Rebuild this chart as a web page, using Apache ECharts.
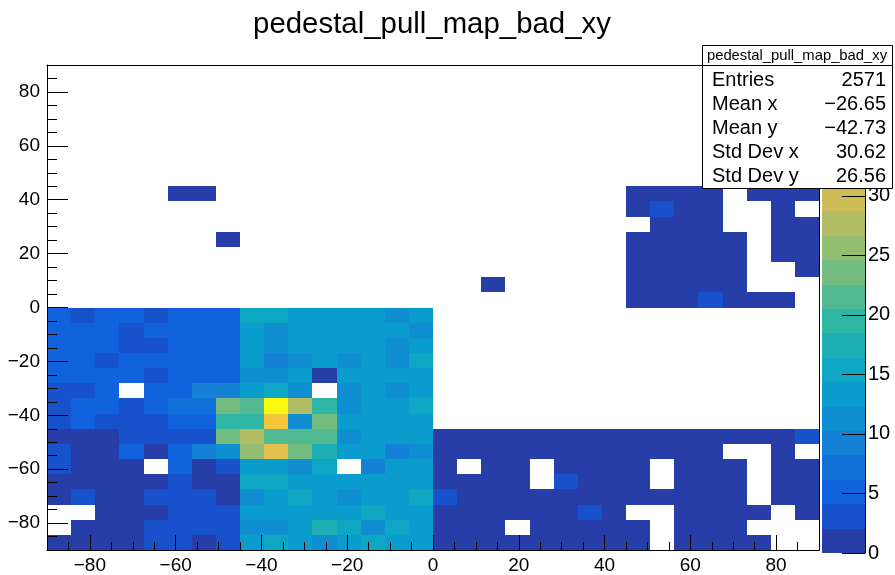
<!DOCTYPE html>
<html><head><meta charset="utf-8">
<script src="https://cdn.jsdelivr.net/npm/echarts@6/dist/echarts.min.js"></script>
<style>html,body{margin:0;padding:0;background:#fff}#c{width:895px;height:575px}</style>
</head><body><div id="c"></div><script>
// ---- axis / binning definitions ----
const xMin = -90, xMax = 90, yMin = -90, yMax = 90;
const nBinsX = 32, nBinsY = 32;
const zMax = 41, nContours = 20;

// ---- bin contents, one array per y-bin (bottom row first), 32 x-bins each ----
const row00 = [1,2,1,1,3,3,1,3,13,15,13,11,13,15,13,13, 1,1,2,1,1,1,1,2,1,0,1,1,2,1,0,0];
const row01 = [0,1,2,1,3,3,4,3,11,11,13,17,15,11,15,13, 1,1,1,0,1,2,1,1,1,0,1,1,1,0,0,0];
const row02 = [0,0,1,2,1,3,3,4,13,13,14,13,13,15,13,13, 1,2,1,1,1,1,3,1,0,0,1,2,1,1,0,1];
const row03 = [1,3,1,2,3,3,3,1,11,13,15,13,11,13,14,15, 3,1,1,1,1,1,1,1,1,1,1,1,1,0,1,1];
const row04 = [1,2,1,1,1,3,1,2,15,15,13,13,14,13,13,13, 1,1,1,1,0,3,1,1,1,0,1,1,1,0,1,1];
const row05 = [3,1,1,2,0,5,1,3,13,14,11,15,0,9,13,13, 1,0,1,1,0,1,1,1,1,0,1,1,1,0,1,1];
const row06 = [3,1,1,5,1,5,10,11,25,31,23,17,13,13,9,11, 1,1,1,1,1,1,1,1,1,1,1,1,0,0,1,0];
const row07 = [1,1,2,3,3,4,3,23,27,21,21,21,11,13,13,13, 1,1,1,1,1,1,1,1,1,1,1,1,1,1,1,3];
const row08 = [3,5,3,3,4,5,5,19,19,34,11,23,13,13,13,13, 0,0,0,0,0,0,0,0,0,0,0,0,0,0,0,0];
const row09 = [3,5,5,3,5,7,7,23,21,41,27,19,11,13,13,15, 0,0,0,0,0,0,0,0,0,0,0,0,0,0,0,0];
const row10 = [3,4,5,0,5,5,9,9,13,15,11,0,11,13,11,13, 0,0,0,0,0,0,0,0,0,0,0,0,0,0,0,0];
const row11 = [5,5,6,5,3,5,5,5,11,11,13,1,13,13,13,13, 0,0,0,0,0,0,0,0,0,0,0,0,0,0,0,0];
const row12 = [5,5,3,5,5,5,6,5,13,9,11,13,11,13,11,15, 0,0,0,0,0,0,0,0,0,0,0,0,0,0,0,0];
const row13 = [5,5,5,3,4,5,5,5,13,11,13,13,13,13,11,13, 0,0,0,0,0,0,0,0,0,0,0,0,0,0,0,0];
const row14 = [5,5,5,3,5,5,5,5,13,11,13,13,13,13,13,11, 0,0,0,0,0,0,0,0,0,0,0,0,0,0,0,0];
const row15 = [5,3,5,5,3,5,5,5,15,15,13,13,13,13,11,13, 0,0,0,0,0,0,0,0,0,0,0,0,0,0,0,0];
const row16 = [0,0,0,0,0,0,0,0,0,0,0,0,0,0,0,0, 0,0,0,0,0,0,0,0,1,1,1,3,1,1,1,0];
const row17 = [0,0,0,0,0,0,0,0,0,0,0,0,0,0,0,0, 0,0,1,0,0,0,0,0,1,1,1,1,1,0,0,0];
const row18 = [0,0,0,0,0,0,0,0,0,0,0,0,0,0,0,0, 0,0,0,0,0,0,0,0,1,1,1,1,1,0,0,1];
const row19 = [0,0,0,0,0,0,0,0,0,0,0,0,0,0,0,0, 0,0,0,0,0,0,0,0,1,1,1,1,1,0,1,1];
const row20 = [0,0,0,0,0,0,0,1,0,0,0,0,0,0,0,0, 0,0,0,0,0,0,0,0,1,1,1,1,1,0,1,1];
const row21 = [0,0,0,0,0,0,0,0,0,0,0,0,0,0,0,0, 0,0,0,0,0,0,0,0,0,1,1,1,0,0,1,1];
const row22 = [0,0,0,0,0,0,0,0,0,0,0,0,0,0,0,0, 0,0,0,0,0,0,0,0,1,3,1,1,0,0,1,0];
const row23 = [0,0,0,0,0,1,1,0,0,0,0,0,0,0,0,0, 0,0,0,0,0,0,0,0,1,1,1,1,0,1,1,1];
const row24 = [0,0,0,0,0,0,0,0,0,0,0,0,0,0,0,0, 0,0,0,0,0,0,0,0,0,0,0,0,0,0,0,0];
const row25 = [0,0,0,0,0,0,0,0,0,0,0,0,0,0,0,0, 0,0,0,0,0,0,0,0,0,0,0,0,0,0,0,0];
const row26 = [0,0,0,0,0,0,0,0,0,0,0,0,0,0,0,0, 0,0,0,0,0,0,0,0,0,0,0,0,0,0,0,0];
const row27 = [0,0,0,0,0,0,0,0,0,0,0,0,0,0,0,0, 0,0,0,0,0,0,0,0,0,0,0,0,0,0,0,0];
const row28 = [0,0,0,0,0,0,0,0,0,0,0,0,0,0,0,0, 0,0,0,0,0,0,0,0,0,0,0,0,0,0,0,0];
const row29 = [0,0,0,0,0,0,0,0,0,0,0,0,0,0,0,0, 0,0,0,0,0,0,0,0,0,0,0,0,0,0,0,0];
const row30 = [0,0,0,0,0,0,0,0,0,0,0,0,0,0,0,0, 0,0,0,0,0,0,0,0,0,0,0,0,0,0,0,0];
const row31 = [0,0,0,0,0,0,0,0,0,0,0,0,0,0,0,0, 0,0,0,0,0,0,0,0,0,0,0,0,0,0,0,0];
const rows = [row00,row01,row02,row03,row04,row05,row06,row07,row08,row09,row10,row11,row12,row13,row14,row15,
              row16,row17,row18,row19,row20,row21,row22,row23,row24,row25,row26,row27,row28,row29,row30,row31];

// ---- texts ----
const titleText = 'pedestal_pull_map_bad_xy';
const statsTitle = 'pedestal_pull_map_bad_xy';
const statsNames = ['Entries', 'Mean x', 'Mean y', 'Std Dev x', 'Std Dev y'];
const statsValues = ['2571', '\u221226.65', '\u221242.73', '30.62', '26.56'];

// ---- palette (ROOT kBird) ----
const birdStops = [0, .125, .25, .375, .5, .625, .75, .875, 1];
const birdR = [0.2082,0.0592,0.0780,0.0232,0.1802,0.5301,0.8186,0.9956,0.9764];
const birdG = [0.1664,0.3599,0.5041,0.6419,0.7178,0.7492,0.7328,0.7862,0.9832];
const birdB = [0.5293,0.8684,0.8385,0.7914,0.6425,0.4662,0.3499,0.1968,0.0539];
function bird(p) {
  let s = 0; while (s < 7 && p > birdStops[s + 1]) s++;
  const t = (p - birdStops[s]) / (birdStops[s + 1] - birdStops[s]);
  const f = a => Math.round(255 * (a[s] + t * (a[s + 1] - a[s])));
  return 'rgb(' + f(birdR) + ',' + f(birdG) + ',' + f(birdB) + ')';
}
const step = zMax / nContours;
const levelColors = [];
const pieces = [];
const levelIdx = [];
for (let k = 0; k < nContours; k++) {
  const c = bird(Math.floor((k + 0.99) * 255 / nContours) / 255);
  levelColors.push(c);
  levelIdx.push([k]);
  const pc = { gte: k * step, color: c };
  if (k < nContours - 1) pc.lt = (k + 1) * step; else pc.lte = zMax + 1;
  pieces.push(pc);
}

const bw = (xMax - xMin) / nBinsX, bh = (yMax - yMin) / nBinsY;
const cells = [];
rows.forEach((r, j) => r.forEach((v, i) => {
  if (v > 0) cells.push([xMin + (i + 0.5) * bw, yMin + (j + 0.5) * bh, v]);
}));

const FONT = '"Liberation Sans", Arial, Helvetica, sans-serif';
const fmt = v => (v < 0 ? '\u2212' + Math.abs(v) : String(v));
const black = { color: '#000', width: 1 };

const chart = echarts.init(document.getElementById('c'), null, { renderer: 'canvas' });
const txt = (x, y, text, size, align) => ({
  type: 'text', x: x, y: y, z: 100,
  style: { text: text, fill: '#000', fontSize: size, fontFamily: FONT,
           align: align, textAlign: align, verticalAlign: 'middle', textVerticalAlign: 'middle' }
});
const statsChildren = [
  { type: 'rect', z: 100, shape: { x: 702.5, y: 45.5, width: 190, height: 143 },
    style: { fill: '#fff', stroke: '#000', lineWidth: 1 } },
  { type: 'line', z: 100, shape: { x1: 702.5, y1: 65.5, x2: 892.5, y2: 65.5 },
    style: { stroke: '#000', lineWidth: 1 } },
  txt(797, 56, statsTitle, 14.8, 'center')
];
const rowY = [80, 104, 128, 152, 176];
statsNames.forEach((n, i) => {
  statsChildren.push(txt(712, rowY[i], n, 20, 'left'));
  statsChildren.push(txt(886, rowY[i], statsValues[i], 20, 'right'));
});

const option = {
  animation: false,
  backgroundColor: '#fff',
  grid: [
    { left: 47, top: 65, width: 772, height: 488 },
    { left: 822, top: 65, width: 43, height: 488 }
  ],
  xAxis: [
    { gridIndex: 0, type: 'value', min: xMin, max: xMax, splitNumber: 9, position: 'bottom', z: 10,
      axisLine: { show: true, onZero: false, lineStyle: black },
      axisTick: { show: true, inside: true, length: 15, lineStyle: black },
      minorTick: { show: true, splitNumber: 4, length: 8, lineStyle: black },
      axisLabel: { show: true, margin: 6, color: '#000', fontSize: 19, fontFamily: FONT,
                   formatter: fmt, showMinLabel: false, showMaxLabel: false },
      splitLine: { show: false }, minorSplitLine: { show: false } },
    { gridIndex: 0, type: 'value', min: xMin, max: xMax, position: 'top', z: 10,
      axisLine: { show: true, onZero: false, lineStyle: black },
      axisTick: { show: false }, axisLabel: { show: false }, splitLine: { show: false } },
    { gridIndex: 1, type: 'value', min: 0, max: 1, show: false }
  ],
  yAxis: [
    { gridIndex: 0, type: 'value', min: yMin, max: yMax, splitNumber: 9, position: 'left', z: 10,
      axisLine: { show: true, onZero: false, lineStyle: black },
      axisTick: { show: true, inside: true, length: 21, lineStyle: black },
      minorTick: { show: true, splitNumber: 4, length: 10, lineStyle: black },
      axisLabel: { show: true, margin: 7, color: '#000', fontSize: 19, fontFamily: FONT,
                   formatter: fmt, showMinLabel: false, showMaxLabel: false },
      splitLine: { show: false }, minorSplitLine: { show: false } },
    { gridIndex: 0, type: 'value', min: yMin, max: yMax, position: 'right', z: 10,
      axisLine: { show: true, onZero: false, lineStyle: black },
      axisTick: { show: false }, axisLabel: { show: false }, splitLine: { show: false } },
    { gridIndex: 1, type: 'value', min: 0, max: zMax, interval: 5, position: 'right', z: 10,
      axisLine: { show: true, onZero: false, lineStyle: black },
      axisTick: { show: true, inside: true, length: 23, lineStyle: black },
      axisLabel: { show: true, margin: 3, color: '#000', fontSize: 20, fontFamily: FONT,
                   showMaxLabel: false },
      splitLine: { show: false } }
  ],
  visualMap: { type: 'piecewise', show: false, seriesIndex: 0, dimension: 2, pieces: pieces },
  series: [
    { type: 'custom', xAxisIndex: 0, yAxisIndex: 0, data: cells, z: 2,
      encode: { x: 0, y: 1 },
      renderItem: function (params, api) {
        const x = api.value(0), y = api.value(1);
        const p0 = api.coord([x - bw / 2, y + bh / 2]);
        const p1 = api.coord([x + bw / 2, y - bh / 2]);
        const x0 = Math.round(p0[0]), y0 = Math.round(p0[1]);
        const x1 = Math.round(p1[0]), y1 = Math.round(p1[1]);
        return { type: 'rect', shape: { x: x0, y: y0, width: x1 - x0, height: y1 - y0 },
                 style: { fill: api.visual('color') } };
      } },
    { type: 'custom', xAxisIndex: 2, yAxisIndex: 2, data: levelIdx, z: 2,
      encode: { y: 0 },
      renderItem: function (params, api) {
        const k = api.value(0);
        const p0 = api.coord([0, (k + 1) * step]);
        const p1 = api.coord([1, k * step]);
        const x0 = Math.round(p0[0]), y0 = Math.round(p0[1]);
        const x1 = Math.round(p1[0]), y1 = Math.round(p1[1]);
        return { type: 'rect', shape: { x: x0, y: y0, width: x1 - x0, height: y1 - y0 },
                 style: { fill: levelColors[k] } };
      } }
  ],
  graphic: [
    txt(432, 25, titleText, 29.4, 'center'),
    { type: 'group', z: 100, children: statsChildren }
  ]
};
chart.setOption(option);
</script></body></html>
